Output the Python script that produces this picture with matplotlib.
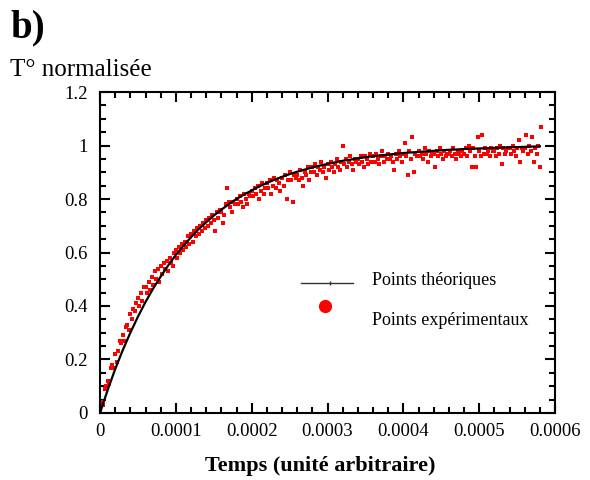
import numpy as np
import matplotlib
matplotlib.use("Agg")
import matplotlib.pyplot as plt
from matplotlib.ticker import MultipleLocator

# theoretical curve, sampled every 10 us (0 .. 580 us)
t_theo_us = list(range(0, 590, 10))
y_theo = [0.000, 0.085, 0.164, 0.235, 0.300, 0.360, 0.415, 0.465, 0.510, 0.552,
          0.591, 0.625, 0.657, 0.687, 0.713, 0.738, 0.760, 0.781, 0.800, 0.817,
          0.832, 0.847, 0.860, 0.872, 0.883, 0.893, 0.902, 0.910, 0.918, 0.925,
          0.931, 0.937, 0.943, 0.947, 0.952, 0.956, 0.960, 0.963, 0.966, 0.969,
          0.972, 0.974, 0.976, 0.978, 0.980, 0.982, 0.984, 0.985, 0.987, 0.988,
          0.989, 0.990, 0.991, 0.992, 0.993, 0.994, 0.995, 0.996, 0.997]

# experimental points, one sample every 2 us (0 .. 582 us)
y_exp = [
    0.01, 0.04, 0.03, 0.09, 0.10, 0.12, 0.11, 0.17, 0.18, 0.17,
    0.22, 0.19, 0.23, 0.27, 0.26, 0.29, 0.27, 0.32, 0.33, 0.31,
    0.37, 0.35, 0.39, 0.38, 0.41, 0.43, 0.40, 0.45, 0.42, 0.47,
    0.47, 0.45, 0.49, 0.46, 0.51, 0.48, 0.53, 0.50, 0.54, 0.49,
    0.55, 0.52, 0.56, 0.54, 0.57, 0.53, 0.58, 0.56, 0.55, 0.60,
    0.61, 0.58, 0.62, 0.60, 0.63, 0.61, 0.64, 0.62, 0.66, 0.63,
    0.67, 0.64, 0.68, 0.66, 0.69, 0.67, 0.70, 0.68, 0.71, 0.69,
    0.72, 0.70, 0.73, 0.71, 0.74, 0.72, 0.68, 0.75, 0.73, 0.76,
    0.75, 0.71, 0.74, 0.78, 0.84, 0.79, 0.77, 0.75, 0.79, 0.78,
    0.80, 0.78, 0.81, 0.79, 0.77, 0.82, 0.80, 0.78, 0.82, 0.81,
    0.83, 0.81, 0.84, 0.82, 0.85, 0.80, 0.83, 0.86, 0.82, 0.84,
    0.86, 0.84, 0.87, 0.82, 0.85, 0.88, 0.84, 0.87, 0.86, 0.83,
    0.88, 0.85, 0.89, 0.80, 0.87, 0.90, 0.87, 0.79, 0.89, 0.88,
    0.89, 0.87, 0.91, 0.88, 0.85, 0.90, 0.89, 0.92, 0.87, 0.90,
    0.92, 0.90, 0.93, 0.89, 0.92, 0.91, 0.94, 0.90, 0.92, 0.88,
    0.93, 0.91, 0.94, 0.92, 0.90, 0.93, 0.95, 0.92, 0.91, 0.94,
    1.00, 0.93, 0.95, 0.92, 0.94, 0.96, 0.93, 0.91, 0.95, 0.94,
    0.95, 0.93, 0.96, 0.94, 0.92, 0.96, 0.95, 0.93, 0.97, 0.94,
    0.96, 0.94, 0.97, 0.95, 0.93, 0.96, 0.98, 0.94, 0.96, 0.95,
    0.97, 0.95, 0.96, 0.94, 0.91, 0.97, 0.95, 0.98, 0.96, 0.94,
    0.97, 1.01, 0.96, 0.89, 0.98, 0.95, 1.03, 0.90, 0.97, 0.96,
    0.98, 0.96, 0.97, 0.95, 0.99, 0.97, 0.94, 0.98, 0.96, 0.97,
    0.97, 0.92, 0.98, 0.96, 0.99, 0.97, 0.95, 0.98, 0.96, 0.97,
    0.97, 0.98, 0.96, 0.99, 0.97, 0.95, 0.98, 0.97, 0.96, 0.98,
    0.97, 0.99, 0.96, 1.00, 0.98, 0.92, 0.99, 0.96, 0.92, 1.03,
    0.98, 0.96, 1.04, 0.97, 0.99, 0.97, 0.98, 0.96, 0.99, 0.98,
    0.98, 0.96, 0.99, 0.97, 1.00, 0.93, 0.99, 0.97, 0.98, 0.99,
    0.99, 0.97, 1.00, 0.98, 0.96, 0.99, 1.02, 0.94, 0.99, 0.98,
    0.99, 1.04, 0.97, 1.00, 0.98, 1.03, 0.94, 0.99, 0.97, 1.00,
    0.92, 1.07,
]
EXP_STEP_US = 2

x_ticks = [0, 0.0001, 0.0002, 0.0003, 0.0004, 0.0005, 0.0006]
x_tick_labels = ["0", "0.0001", "0.0002", "0.0003", "0.0004", "0.0005", "0.0006"]
y_ticks = [0, 0.2, 0.4, 0.6, 0.8, 1.0, 1.2]
y_tick_labels = ["0", "0.2", "0.4", "0.6", "0.8", "1", "1.2"]

t_theo = np.array(t_theo_us) * 1e-6
t_exp = np.arange(len(y_exp)) * EXP_STEP_US * 1e-6

plt.rcParams['font.family'] = ['Liberation Serif', 'DejaVu Serif']

fig = plt.figure(figsize=(5.9, 4.8), dpi=100)
ax = fig.add_axes([0.1695, 0.1396, 0.7712, 0.6687])

ax.plot(t_exp, y_exp, 's', color='red', markersize=2.3, markeredgewidth=0, zorder=2)
ax.plot(t_theo, y_theo, '-', color='black', linewidth=1.6, zorder=3)

ax.set_xlim(0, 0.0006)
ax.set_ylim(0, 1.2)
ax.set_xticks(x_ticks)
ax.set_xticklabels(x_tick_labels)
ax.set_yticks(y_ticks)
ax.set_yticklabels(y_tick_labels)
ax.xaxis.set_minor_locator(MultipleLocator(0.00002))
ax.yaxis.set_minor_locator(MultipleLocator(0.05))
ax.tick_params(which='both', direction='in', top=True, right=True, width=1.5)
ax.tick_params(which='major', length=7.5, labelsize=13.5)
ax.tick_params(axis='x', which='major', pad=7)
ax.tick_params(axis='y', which='major', pad=9)
ax.tick_params(which='minor', length=4)
for sp in ax.spines.values():
    sp.set_linewidth(1.5)

# legend drawn by hand (odd layout in the original)
ax.plot([0.442, 0.556], [0.405, 0.405], '-', color='#333333', linewidth=1,
        transform=ax.transAxes, clip_on=False)
ax.plot([0.505], [0.405], '|', color='#333333', markersize=3,
        transform=ax.transAxes, clip_on=False)
ax.text(0.598, 0.413, "Points théoriques", transform=ax.transAxes,
        fontsize=13, va='center', ha='left')
ax.plot([0.495], [0.333], 'o', color='red', markersize=8.5,
        transform=ax.transAxes, clip_on=False)
ax.text(0.598, 0.287, "Points expérimentaux", transform=ax.transAxes,
        fontsize=13, va='center', ha='left')

fig.text(10 / 590, 1 - 28 / 480, "b)", fontsize=28, fontweight='bold',
         va='center', ha='left')
fig.text(10 / 590, 1 - 70 / 480, "T° normalisée", fontsize=18,
         va='center', ha='left')
fig.text(320 / 590, 1 - 466 / 480, "Temps (unité arbitraire)", fontsize=16,
         fontweight='bold', va='center', ha='center')

fig.savefig("out.png", dpi=100)
